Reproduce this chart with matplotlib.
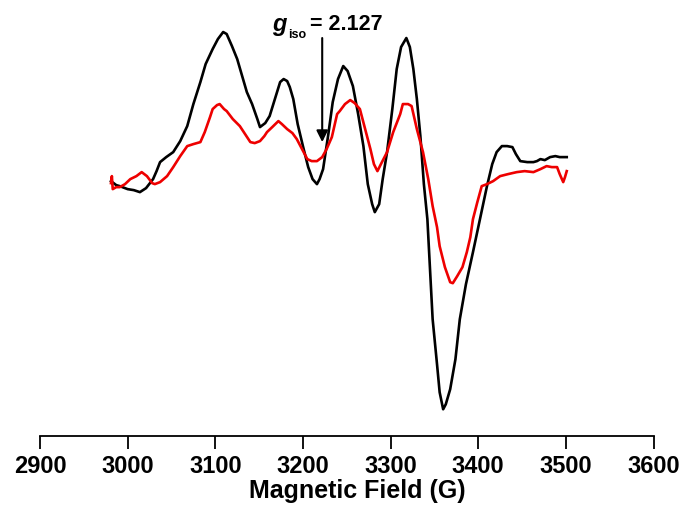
import matplotlib.pyplot as plt
import numpy as np

plt.rcParams['font.family'] = ['Liberation Sans', 'DejaVu Sans']

# EPR spectra (field in G, derivative intensity in a.u.)
field_black = [2981, 2987, 2991, 3000, 3007, 3014, 3021, 3029, 3033, 3037,
               3044, 3052, 3060, 3068, 3075, 3083, 3089, 3097, 3103, 3109,
               3113, 3119, 3125, 3130, 3136, 3142, 3148, 3151, 3157, 3162,
               3168, 3174, 3178, 3182, 3185, 3189, 3194, 3200, 3206, 3211,
               3216, 3219, 3223, 3229, 3234, 3240, 3246, 3251, 3257, 3263,
               3269, 3274, 3279, 3282, 3287, 3291, 3296, 3302, 3307, 3312,
               3318, 3322, 3326, 3330, 3334, 3338, 3342, 3345, 3348, 3353,
               3356, 3360, 3363, 3368, 3374, 3379, 3386, 3394, 3402, 3410,
               3416, 3421, 3427, 3433, 3439, 3443, 3448, 3456, 3463, 3467,
               3471, 3476, 3482, 3488, 3493, 3501]
int_black = [-12, -16, -17, -20, -21, -23, -19, -10, -2, 7,
             12, 17, 28, 43, 65, 87, 105, 120, 130, 137,
             135, 123, 110, 95, 77, 65, 50, 42, 46, 53,
             70, 87, 90, 88, 82, 70, 45, 23, 2, -10,
             -15, -10, 0, 35, 67, 90, 103, 98, 83, 55,
             23, -15, -35, -43, -35, -10, 17, 60, 100, 122,
             131, 122, 100, 70, 33, -15, -50, -100, -150, -195,
             -223, -240, -235, -220, -190, -150, -115, -83, -50, -17,
             5, 17, 23, 23, 22, 15, 8, 7, 7, 8,
             10, 9, 12, 13, 12, 12]

field_red = [2981, 2982, 2983, 2987, 2991, 2997, 3003, 3010, 3016, 3022,
             3028, 3031, 3037, 3045, 3052, 3060, 3068, 3075, 3083, 3088,
             3094, 3097, 3102, 3105, 3110, 3113, 3120, 3128, 3134, 3140,
             3145, 3151, 3156, 3159, 3165, 3172, 3176, 3182, 3188, 3193,
             3199, 3205, 3210, 3216, 3222, 3227, 3233, 3239, 3242, 3248,
             3254, 3259, 3265, 3271, 3277, 3281, 3285, 3289, 3296, 3303,
             3311, 3314, 3320, 3324, 3330, 3337, 3343, 3348, 3353, 3356,
             3362, 3368, 3371, 3376, 3382, 3387, 3391, 3394, 3399, 3404,
             3410, 3417, 3425, 3434, 3444, 3453, 3463, 3471, 3478, 3484,
             3490, 3493, 3497, 3499, 3501]
int_red = [-14, -7, -20, -18, -18, -15, -10, -7, -3, -7,
           -14, -15, -13, -7, 2, 13, 23, 25, 27, 37,
           52, 60, 64, 65, 60, 58, 50, 43, 35, 27,
           26, 28, 33, 37, 42, 48, 45, 40, 36, 30,
           20, 10, 8, 8, 12, 20, 32, 55, 58, 65,
           69, 66, 60, 40, 20, 5, -2, 5, 17, 37,
           55, 65, 65, 63, 40, 17, -10, -37, -58, -77,
           -98, -113, -114, -107, -98, -83, -68, -50, -33, -17,
           -15, -12, -7, -5, -3, -2, -3, 0, 3, 2,
           2, -5, -13, -8, -2]

g_iso_field = 3222
xticks = [2900, 3000, 3100, 3200, 3300, 3400, 3500, 3600]

fig = plt.figure(figsize=(6.82, 5.06), dpi=100)
ax = fig.add_axes([40 / 682, 1 - 437.3 / 506, 613.5 / 682, 437.3 / 506])

ax.plot(field_black, int_black, color='black', lw=1.9, solid_joinstyle='round')
ax.plot(field_red, int_red, color='#ee0000', lw=1.9, solid_joinstyle='round')

# arrow marking the isotropic g value
ax.annotate('', xy=(g_iso_field, 27), xytext=(g_iso_field, 131),
            arrowprops=dict(arrowstyle='-|>', color='black', lw=1.5,
                            mutation_scale=17, shrinkA=0, shrinkB=0))

fig.text(272 / 682, 1 - 31 / 506, 'g', fontsize=17, fontweight='bold',
         fontstyle='italic', va='baseline', ha='left')
fig.text(288 / 682, 1 - 37.5 / 506, 'iso', fontsize=9, fontweight='bold',
         va='baseline', ha='left')
fig.text(310 / 682, 1 - 30.5 / 506, '= 2.127', fontsize=15.5, fontweight='bold',
         va='baseline', ha='left')

ax.set_xlim(2900, 3600)
ax.set_ylim(-267, 170)
ax.set_xticks(xticks)
ax.set_xticklabels([str(t) for t in xticks], fontsize=17, fontweight='bold')
ax.tick_params(axis='x', direction='out', length=9, width=1.3, pad=4)
ax.set_yticks([])
for s in ['top', 'right', 'left']:
    ax.spines[s].set_visible(False)
ax.spines['bottom'].set_linewidth(1.3)

# axis title placed by hand so it stays inside the canvas
fig.text(357.5 / 682, 1 - 498 / 506, 'Magnetic Field (G)', fontsize=18,
         fontweight='bold', ha='center', va='baseline')

fig.savefig('out.png', dpi=100)
